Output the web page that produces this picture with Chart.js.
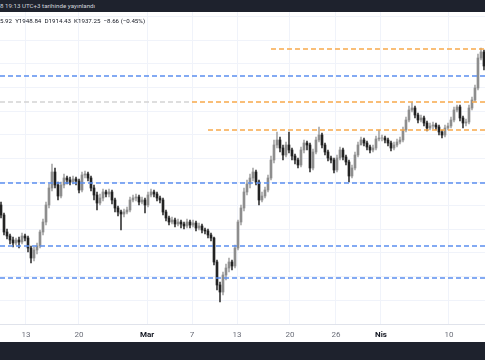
<!DOCTYPE html>
<html>
<head>
<meta charset="utf-8">
<script src="https://cdn.jsdelivr.net/npm/chart.js@4.4.1/dist/chart.umd.min.js"></script>
<style>
    body { margin: 0; width: 485px; height: 360px; overflow: hidden; background: #fff; position: relative; font-family: Roboto, "DejaVu Sans", sans-serif; }
    #ust { position: absolute; left: 0; top: 0; width: 485px; height: 12px; background: #1e222d; color: #d1d4dc; font-size: 6.2px; line-height: 12px; white-space: pre; }
    #alt { position: absolute; left: 0; top: 342px; width: 485px; height: 18px; background: #1e222d; }
    #kutu { position: absolute; left: 0; top: 12px; width: 485px; height: 330px; }
    #ohlc { position: absolute; left: 0; top: 17px; font-size: 6.2px; color: #131722; white-space: pre; z-index: 2; }
</style>
</head>
<body>
<div id="ust">8 19:13 UTC+3 tarihinde yayınlandı</div>
<div id="ohlc">5.92  Y1948.84  D1914.43  K1937.25  −8.66 (−0.45%)</div>
<div id="kutu"><canvas id="grafico"></canvas></div>
<div id="alt"></div>

<script>
// mumlar (soldan saga)
let acilis = [
    1895,1885,1868,1864,1860,1857,1860,1858,1864,1862,
    1852,1842,1850,1854,1868,1878,1895,1912,1928,1915,
    1904,1915,1922,1920,1918,1921,1919,1910,1925,1926,
    1922,1912,1905,1897,1902,1908,1906,1908,1900,1892,
    1888,1886,1888,1890,1900,1902,1903,1898,1900,1895,
    1905,1908,1906,1902,1900,1888,1882,1878,1880,1876,
    1878,1876,1874,1878,1875,1877,1872,1874,1870,1869,
    1865,1862,1838,1815,1808,1825,1832,1838,1834,1852,
    1878,1892,1908,1916,1922,1928,1918,1900,1904,1910,
    1922,1940,1955,1960,1952,1945,1955,1950,1944,1940,
    1935,1950,1957,1955,1932,1948,1960,1965,1955,1948,
    1942,1940,1930,1942,1950,1943,1938,1924,1932,1945,
    1955,1960,1957,1953,1950,1952,1961,1962,1962,1960,
    1957,1952,1955,1958,1960,1970,1980,1990,1992,1985,
    1980,1982,1977,1972,1974,1975,1973,1968,1965,1972,
    1974,1980,1990,1993,1982,1977,1978,1992,2000,2012,
    2042,2048
];
let yuksek = [
    1898,1887,1871,1866,1863,1862,1863,1867,1866,1864,
    1854,1853,1857,1870,1881,1898,1916,1936,1932,1918,
    1918,1926,1924,1923,1924,1923,1921,1928,1929,1928,
    1924,1915,1908,1906,1911,1910,1911,1910,1902,1894,
    1890,1891,1893,1903,1905,1906,1905,1903,1902,1908,
    1911,1910,1908,1904,1902,1890,1884,1883,1882,1881,
    1880,1878,1881,1880,1880,1879,1877,1876,1872,1871,
    1867,1863,1840,1818,1828,1836,1842,1840,1855,1880,
    1895,1912,1920,1926,1932,1930,1920,1908,1913,1925,
    1944,1960,1968,1963,1955,1958,1968,1952,1946,1942,
    1953,1960,1959,1957,1951,1963,1973,1967,1957,1950,
    1944,1942,1945,1953,1952,1945,1940,1935,1948,1958,
    1963,1962,1959,1955,1955,1964,1970,1965,1964,1962,
    1959,1958,1961,1963,1973,1983,1994,1998,1994,1987,
    1985,1984,1979,1977,1978,1977,1975,1970,1975,1977,
    1983,1993,1995,1995,1984,1981,1995,2003,2015,2046,
    2052,2050
];
let dusuk = [
    1882,1865,1861,1856,1853,1855,1852,1856,1859,1848,
    1837,1839,1846,1852,1865,1875,1892,1909,1912,1900,
    1902,1912,1916,1915,1916,1915,1907,1908,1922,1919,
    1909,1900,1890,1895,1899,1903,1903,1896,1888,1884,
    1870,1883,1886,1888,1898,1899,1895,1896,1887,1893,
    1903,1903,1899,1897,1885,1879,1875,1876,1873,1874,
    1872,1871,1872,1872,1873,1869,1870,1867,1866,1862,
    1859,1835,1810,1798,1805,1820,1828,1830,1832,1850,
    1875,1889,1905,1912,1919,1915,1895,1898,1902,1908,
    1920,1937,1952,1948,1940,1943,1947,1940,1936,1932,
    1933,1947,1950,1928,1930,1946,1958,1952,1945,1939,
    1937,1927,1928,1940,1940,1935,1918,1922,1930,1943,
    1957,1954,1950,1947,1948,1950,1959,1959,1957,1954,
    1949,1950,1953,1956,1958,1968,1978,1988,1982,1977,
    1978,1974,1969,1970,1971,1970,1965,1962,1963,1970,
    1972,1978,1988,1979,1972,1974,1976,1990,1998,2010,
    2040,2030
];
let kapanis = [
    1885,1868,1864,1860,1857,1860,1858,1864,1862,1852,
    1842,1850,1854,1868,1878,1895,1912,1928,1915,1904,
    1915,1922,1920,1918,1921,1919,1910,1925,1926,1922,
    1912,1905,1897,1902,1908,1906,1908,1900,1892,1888,
    1886,1888,1890,1900,1902,1903,1898,1900,1895,1905,
    1908,1906,1902,1900,1888,1882,1878,1880,1876,1878,
    1876,1874,1878,1875,1877,1872,1874,1870,1869,1865,
    1862,1838,1815,1808,1825,1832,1838,1834,1852,1878,
    1892,1908,1916,1922,1928,1918,1900,1904,1910,1922,
    1940,1955,1960,1952,1945,1955,1950,1944,1940,1935,
    1950,1957,1955,1932,1948,1960,1965,1955,1948,1942,
    1940,1930,1942,1950,1943,1938,1924,1932,1945,1955,
    1960,1957,1953,1950,1952,1961,1962,1962,1960,1957,
    1952,1955,1958,1960,1970,1980,1990,1992,1985,1980,
    1982,1977,1972,1974,1975,1973,1968,1965,1972,1974,
    1980,1990,1993,1982,1977,1978,1992,2000,2012,2042,
    2048,2034
];

// zaman ekseni etiketleri ve mum sirasindaki yerleri
let etiketler = ["13", "20", "Mar", "7", "13", "20", "26", "Nis", "10"];
let etiketYeri = [8.33, 26, 48.67, 63.67, 78.67, 96.33, 111.67, 126.67, 149.33];
let aylar = ["Mar", "Nis"];

// yatay seviyeler
let seviyeFiyat = [2051, 2024, 1998, 1998, 1970, 1917, 1854, 1822];
let seviyeBas   = [90, null, null, 63.67, 69, null, null, null];
let seviyeSon   = [null, null, 63.67, null, null, null, null, null];
let seviyeTur   = ["turuncu", "mavi", "gri", "turuncu", "turuncu", "mavi", "mavi", "mavi"];

// fiyat izgarasi
let izgara = [2083.2, 2059.6, 2036, 2012.4, 1988.8, 1965.2, 1941.6, 1918, 1894.4, 1870.8, 1847.2, 1823.6, 1800];

const xMin = -1 / 3;
const xMax = 161.34;
const renkler = { turuncu: "#f7a94b", mavi: "#5b8ff0", gri: "#d3d3d3" };

let govde = [], fitil = [], govdeRenk = [], fitilRenk = [];
for (let i = 0; i < kapanis.length; i++) {
    let yukari = kapanis[i] >= acilis[i];
    govde.push({ x: i, y: [acilis[i], kapanis[i]] });
    fitil.push({ x: i, y: [dusuk[i], yuksek[i]] });
    govdeRenk.push(yukari ? "#8d8d8d" : "#222222");
    fitilRenk.push(yukari ? "#a9a9a9" : "#3a3a3a");
}

let seviyeler = seviyeFiyat.map(function (p, i) {
    return {
        type: "line",
        data: [
            { x: seviyeBas[i] === null ? xMin : seviyeBas[i], y: p },
            { x: seviyeSon[i] === null ? xMax : seviyeSon[i], y: p }
        ],
        borderColor: renkler[seviyeTur[i]],
        borderWidth: 1.5,
        borderDash: [5, 3],
        pointRadius: 0,
        order: 0
    };
});

function ayMi(c) {
    return c && c.index !== undefined && aylar.includes(etiketler[c.index]);
}

new Chart(document.getElementById("grafico"), {
    type: "bar",
    data: {
        datasets: seviyeler.concat([
            { data: govde, backgroundColor: govdeRenk, barThickness: 2, grouped: false, order: 1 },
            { data: fitil, backgroundColor: fitilRenk, barThickness: 1, grouped: false, order: 2 }
        ])
    },
    options: {
        animation: false,
        responsive: true,
        maintainAspectRatio: false,
        devicePixelRatio: 1,
        layout: { padding: 0 },
        plugins: { legend: { display: false }, tooltip: { enabled: false } },
        scales: {
            x: {
                type: "linear",
                min: xMin,
                max: xMax,
                offset: false,
                grid: { color: "#f0f3fa", drawTicks: false, offset: false },
                border: { display: true, color: "#e0e3eb" },
                afterBuildTicks: function (s) {
                    s.ticks = etiketYeri.map(v => ({ value: v }));
                },
                afterFit: function (s) {
                    s.height = 18;
                },
                ticks: {
                    autoSkip: false,
                    maxRotation: 0,
                    padding: 6,
                    color: c => ayMi(c) ? "#131722" : "#6a6d78",
                    font: c => ({ size: 8, family: "Roboto", weight: ayMi(c) ? "bold" : "normal" }),
                    callback: (v, i) => etiketler[i]
                }
            },
            y: {
                min: 1776,
                max: 2088,
                afterBuildTicks: function (s) {
                    s.ticks = izgara.map(v => ({ value: v }));
                },
                grid: { color: "#f0f3fa", drawTicks: false },
                border: { display: false },
                ticks: { display: false }
            }
        }
    }
});
</script>
</body>
</html>
